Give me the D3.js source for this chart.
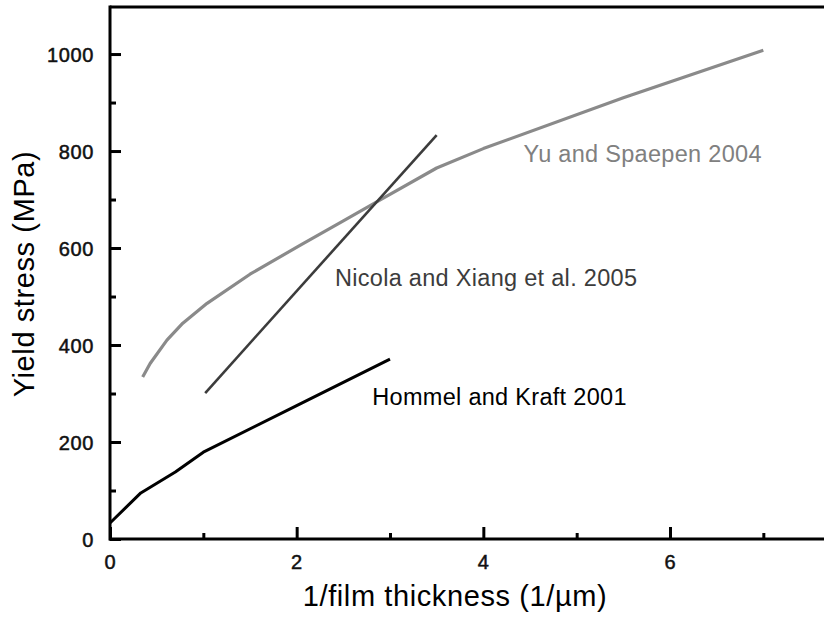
<!DOCTYPE html>
<html>
<head>
<meta charset="utf-8">
<script src="https://cdn.jsdelivr.net/npm/d3@7"></script>
<style>
  html, body { margin: 0; padding: 0; background: #fff; }
  svg { display: block; font-family: Arial, "Liberation Sans", sans-serif; }
</style>
</head>
<body>
<svg id="chart" width="824" height="617"></svg>
<script>
// Yield stress vs inverse film thickness, three literature data sets
const yuSpaepenX = [0.35, 0.43, 0.61, 0.78, 1.04, 1.5, 2.04, 2.5, 2.9, 3.5, 4.0, 5.5, 7.0];
const yuSpaepenY = [334, 362, 410, 445, 486, 546, 606, 656, 700, 765, 805, 910, 1008];

const nicolaX = [1.02, 3.5];
const nicolaY = [301, 833];

const hommelX = [0.0, 0.33, 0.7, 1.0, 2.0, 3.0];
const hommelY = [33, 95, 138, 179, 275, 371];

const xTicks = [0, 2, 4, 6];
const xMinorTicks = [1, 3, 5, 7];
const yTicks = [0, 200, 400, 600, 800, 1000];
const yMinorTicks = [100, 300, 500, 700, 900];

const seriesLabels = ["Yu and Spaepen 2004", "Nicola and Xiang et al. 2005", "Hommel and Kraft 2001"];
const xTitle = "1/film thickness (1/\u00b5m)";
const yTitle = "Yield stress (MPa)";

const svg = d3.select("#chart");
const plotLeft = 110, plotRight = 824, plotTop = 7, plotBottom = 539;

const x = d3.scaleLinear().domain([0, 7.65]).range([plotLeft, plotRight]);
const y = d3.scaleLinear().domain([0, 1097]).range([plotBottom, plotTop]);

// frame: left axis, bottom axis, top border
svg.append("line").attr("x1", plotLeft).attr("x2", plotRight).attr("y1", plotTop).attr("y2", plotTop)
  .attr("stroke", "#000").attr("stroke-width", 3);

const xAxis = svg.append("g").attr("transform", `translate(0,${plotBottom})`);
xAxis.call(d3.axisTop(x).tickValues(xTicks).tickSize(12).tickFormat(""));
xAxis.append("g").call(d3.axisTop(x).tickValues(xMinorTicks).tickSize(6).tickFormat(""));
xAxis.selectAll(".domain").remove();
xAxis.selectAll("line").attr("stroke", "#000").attr("stroke-width", 3);
svg.append("line").attr("x1", plotLeft - 1).attr("x2", plotRight).attr("y1", plotBottom).attr("y2", plotBottom)
  .attr("stroke", "#000").attr("stroke-width", 3);

const yAxis = svg.append("g").attr("transform", `translate(${plotLeft},0)`);
yAxis.call(d3.axisRight(y).tickValues(yTicks).tickSize(11).tickFormat(""));
yAxis.append("g").call(d3.axisRight(y).tickValues(yMinorTicks).tickSize(6).tickFormat(""));
yAxis.selectAll(".domain").remove();
yAxis.selectAll("line").attr("stroke", "#000").attr("stroke-width", 3);
svg.append("line").attr("x1", plotLeft).attr("x2", plotLeft).attr("y1", plotTop - 1.5).attr("y2", plotBottom + 1.5)
  .attr("stroke", "#000").attr("stroke-width", 3);

// tick labels
svg.append("g").selectAll("text").data(xTicks).join("text")
  .attr("x", d => x(d)).attr("y", plotBottom + 29.5)
  .attr("text-anchor", "middle").attr("font-size", 20)
  .attr("fill", "#111").attr("stroke", "#111").attr("stroke-width", 0.5)
  .text(d => d);
svg.append("g").selectAll("text").data(yTicks).join("text")
  .attr("x", 94).attr("y", d => y(d) + 7.5)
  .attr("text-anchor", "end").attr("font-size", 20).attr("letter-spacing", 0.6)
  .attr("fill", "#111").attr("stroke", "#111").attr("stroke-width", 0.5)
  .text(d => d);

// axis titles
svg.append("text").attr("x", 455).attr("y", 606).attr("text-anchor", "middle")
  .attr("font-size", 29).attr("letter-spacing", 0.6).attr("fill", "#000").text(xTitle);
svg.append("text").attr("transform", "translate(34,274) rotate(-90)")
  .attr("text-anchor", "middle").attr("font-size", 29).attr("letter-spacing", 0.6)
  .attr("fill", "#000").text(yTitle);

// curves
const line = d3.line().x(d => x(d[0])).y(d => y(d[1]));
const series = [
  { xs: yuSpaepenX, ys: yuSpaepenY, color: "#8a8a8a", width: 3.2 },
  { xs: nicolaX, ys: nicolaY, color: "#3c3c3c", width: 2.6 },
  { xs: hommelX, ys: hommelY, color: "#000000", width: 3 }
];
series.forEach(s => {
  svg.append("path")
    .datum(s.xs.map((v, i) => [v, s.ys[i]]))
    .attr("d", line)
    .attr("fill", "none")
    .attr("stroke", s.color)
    .attr("stroke-width", s.width)
    .attr("stroke-linejoin", "round");
});

// inline labels
const labelPos = [
  { x: 4.43, y: 777, color: "#808080" },
  { x: 2.41, y: 522, color: "#3c3c3c" },
  { x: 2.81, y: 276, color: "#000" }
];
seriesLabels.forEach((t, i) => {
  svg.append("text")
    .attr("x", x(labelPos[i].x)).attr("y", y(labelPos[i].y))
    .attr("font-size", 23.5).attr("fill", labelPos[i].color)
    .attr("letter-spacing", 0.3)
    .text(t);
});
</script>
</body>
</html>
